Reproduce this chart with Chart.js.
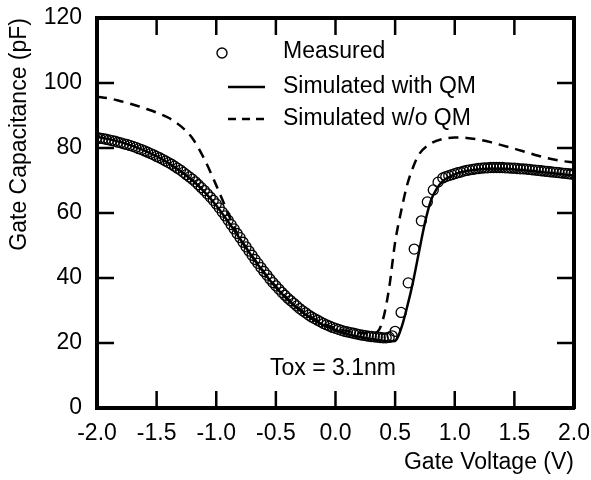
<!DOCTYPE html>
<!-- C-V curve: measured vs simulated with / without quantum-mechanical correction -->
<html>
<head>
<meta charset="utf-8">
<title>C-V comparison, Tox 3.1 nm</title>
<script src="https://cdn.jsdelivr.net/npm/chart.js@4.4.1/dist/chart.umd.min.js"></script>
<style>
  html, body { margin: 0; padding: 0; background: #ffffff; }
</style>
</head>
<body>
<canvas id="cvChart" width="591" height="480"></canvas>
<script>
// --- STYLE ---
const FONT = '"Liberation Sans", Arial, Helvetica, sans-serif';
const FONT_SIZE = 23;
const TICK_LEN = 17;
const TICK_W = 2.5;

// --- DATA ---
// Axis ticks
const xTicks = [-2.0, -1.5, -1.0, -0.5, 0.0, 0.5, 1.0, 1.5, 2.0];
const yTicks = [0, 20, 40, 60, 80, 100, 120];

const legendLabels = ['Measured', 'Simulated with QM', 'Simulated w/o QM'];
const noteText = 'Tox = 3.1nm';

// Measured C-V points (gate voltage in V, capacitance in pF)
const measuredV = [
  -2.000, -1.975, -1.950, -1.925, -1.900, -1.875, -1.850, -1.825, -1.800, -1.775,
  -1.750, -1.725, -1.700, -1.675, -1.650, -1.625, -1.600, -1.575, -1.550, -1.525,
  -1.500, -1.475, -1.450, -1.425, -1.400, -1.375, -1.350, -1.325, -1.300, -1.275,
  -1.250, -1.225, -1.200, -1.175, -1.150, -1.125, -1.100, -1.075, -1.050, -1.025,
  -1.000, -0.975, -0.950, -0.925, -0.900, -0.875, -0.850, -0.825, -0.800, -0.775,
  -0.750, -0.725, -0.700, -0.675, -0.650, -0.625, -0.600, -0.575, -0.550, -0.525,
  -0.500, -0.475, -0.450, -0.425, -0.400, -0.375, -0.350, -0.325, -0.300, -0.275,
  -0.250, -0.225, -0.200, -0.175, -0.150, -0.125, -0.100, -0.075, -0.050, -0.025,
  0.000, 0.025, 0.050, 0.075, 0.100, 0.125, 0.150, 0.175, 0.200, 0.225,
  0.250, 0.275, 0.300, 0.325, 0.350, 0.375, 0.400, 0.425, 0.450, 0.475,
  0.50, 0.55, 0.61, 0.66, 0.72, 0.77, 0.82, 0.86,
  0.900, 0.925, 0.950, 0.975, 1.000, 1.025, 1.050, 1.075, 1.100, 1.125,
  1.150, 1.175, 1.200, 1.225, 1.250, 1.275, 1.300, 1.325, 1.350, 1.375,
  1.400, 1.425, 1.450, 1.475, 1.500, 1.525, 1.550, 1.575, 1.600, 1.625,
  1.650, 1.675, 1.700, 1.725, 1.750, 1.775, 1.800, 1.825, 1.850, 1.875,
  1.900, 1.925, 1.950, 1.975, 2.000
];
const measuredC = [
  83.2, 83.0, 82.9, 82.7, 82.5, 82.3, 82.1, 81.8, 81.6, 81.3,
  81.1, 80.8, 80.5, 80.2, 79.8, 79.5, 79.1, 78.7, 78.3, 77.9,
  77.4, 77.0, 76.5, 76.0, 75.5, 75.0, 74.4, 73.8, 73.2, 72.5,
  71.8, 71.1, 70.4, 69.6, 68.7, 67.8, 66.9, 65.9, 64.9, 63.9,
  62.8, 61.6, 60.3, 59.1, 57.8, 56.4, 55.1, 53.7, 52.4, 51.0,
  49.6, 48.3, 47.0, 45.7, 44.5, 43.2, 42.0, 40.9, 39.7, 38.6,
  37.6, 36.6, 35.6, 34.7, 33.8, 33.0, 32.2, 31.4, 30.6, 29.9,
  29.3, 28.6, 28.0, 27.5, 27.0, 26.5, 26.0, 25.6, 25.2, 24.8,
  24.5, 24.2, 23.9, 23.6, 23.4, 23.2, 23.0, 22.8, 22.6, 22.4,
  22.3, 22.1, 22.0, 21.9, 21.8, 21.7, 21.6, 21.6, 21.8, 22.2,
  23.6, 29.4, 38.5, 48.9, 57.6, 63.4, 67.1, 69.5,
  70.8, 71.2, 71.5, 71.8, 72.1, 72.4, 72.6, 72.9, 73.1, 73.3,
  73.4, 73.6, 73.7, 73.8, 73.9, 73.9, 74.0, 74.0, 74.0, 74.0,
  74.0, 73.9, 73.9, 73.8, 73.8, 73.7, 73.6, 73.6, 73.5, 73.4,
  73.3, 73.2, 73.1, 73.0, 72.9, 72.8, 72.7, 72.6, 72.5, 72.4,
  72.3, 72.2, 72.1, 72.0, 71.9
];

// Simulated with QM (solid line)
const qmV = [-2.0, -1.8, -1.6, -1.4, -1.2, -1.1, -1.0, -0.9, -0.8, -0.7,
  -0.6, -0.5, -0.4, -0.3, -0.2, -0.1, 0.0, 0.1, 0.2, 0.3,
  0.4, 0.45, 0.5, 0.55, 0.6, 0.65, 0.7, 0.75, 0.8, 0.85,
  0.9, 0.95, 1.0, 1.1, 1.2, 1.3, 1.4, 1.5, 1.6, 1.7,
  1.8, 1.9, 2.0];
const qmC = [83.5, 81.8, 79.2, 75.4, 70.1, 66.5, 62.3, 57.3, 52.0, 46.6,
  41.6, 37.1, 33.3, 30.1, 27.5, 25.5, 24.0, 22.8, 21.9, 21.2,
  20.7, 20.5, 20.6, 24.4, 31.0, 38.8, 48.0, 57.0, 63.8, 67.5,
  69.8, 71.0, 71.9, 72.9, 73.4, 73.6, 73.6, 73.4, 73.1, 72.7,
  72.3, 71.9, 71.5];

// Simulated w/o QM (dashed line)
const noQmV = [-2.0, -1.9, -1.8, -1.7, -1.6, -1.5, -1.4, -1.3, -1.2, -1.1,
  -1.0, -0.95, -0.9, -0.85, -0.8, -0.7, -0.6, -0.5, -0.4, -0.3,
  -0.2, -0.1, 0.0, 0.1, 0.2, 0.3, 0.35, 0.4, 0.45, 0.5,
  0.55, 0.6, 0.65, 0.7, 0.8, 0.9, 1.0, 1.1, 1.2, 1.3,
  1.4, 1.5, 1.6, 1.7, 1.8, 1.9, 2.0];
const noQmC = [95.8, 95.3, 94.4, 93.4, 92.2, 90.9, 89.3, 86.8, 83.0, 76.6,
  68.5, 64.2, 59.8, 55.6, 52.1, 46.8, 41.8, 37.4, 33.6, 30.4,
  27.9, 26.0, 24.6, 23.7, 23.1, 23.0, 23.4, 27.5, 37.0, 51.0,
  60.5, 68.5, 74.0, 78.0, 81.4, 82.8, 83.2, 83.1, 82.6, 81.8,
  80.8, 79.8, 78.7, 77.6, 76.7, 76.0, 75.5];

const toPoints = (xs, ys) => xs.map((v, i) => ({ x: v, y: ys[i] }));

const boxBorder = { display: true, color: '#000', width: 4 };

// Inward tick marks (filled rects, placed through the scales) plus the
// hand-placed legend and the Tox note
const decorPlugin = {
  id: 'figureDecor',
  afterDraw(chart) {
    const ctx = chart.ctx;
    const sx = chart.scales.x, sy = chart.scales.y;
    const left = sx.left, right = sx.right, top = sy.top, bottom = sy.bottom;
    ctx.save();
    ctx.fillStyle = '#000';
    ctx.strokeStyle = '#000';

    xTicks.slice(1, -1).forEach(v => {
      const px = sx.getPixelForValue(v) - TICK_W / 2;
      ctx.fillRect(px, bottom - TICK_LEN, TICK_W, TICK_LEN);
      ctx.fillRect(px, top, TICK_W, TICK_LEN);
    });
    yTicks.slice(1, -1).forEach(v => {
      const py = sy.getPixelForValue(v) - TICK_W / 2;
      ctx.fillRect(left, py, TICK_LEN, TICK_W);
      ctx.fillRect(right - TICK_LEN, py, TICK_LEN, TICK_W);
    });

    // legend
    const symX = 222, lineX0 = 228, lineX1 = 265, textX = 283;
    const rows = [52, 87, 119];
    ctx.lineWidth = 1.4;
    ctx.setLineDash([]);
    ctx.beginPath();
    ctx.arc(symX, rows[0] + 1, 5, 0, Math.PI * 2);
    ctx.stroke();
    ctx.fillRect(lineX0, rows[1] - 1.25, lineX1 - lineX0, 2.5);
    [0, 14, 28].forEach(d => ctx.fillRect(lineX0 + d, rows[2] - 1.25, 8, 2.5));

    ctx.font = FONT_SIZE + 'px ' + FONT;
    ctx.textAlign = 'left';
    ctx.textBaseline = 'middle';
    legendLabels.forEach((t, i) => ctx.fillText(t, textX, rows[i]));
    ctx.fillText(noteText, 270, 369);
    ctx.restore();
  }
};

new Chart(document.getElementById('cvChart'), {
  type: 'scatter',
  data: {
    datasets: [
      {
        label: legendLabels[0],
        data: toPoints(measuredV, measuredC),
        showLine: false,
        pointStyle: 'circle',
        pointRadius: 5,
        pointBorderWidth: 1.3,
        pointBorderColor: '#000',
        pointBackgroundColor: 'rgba(0,0,0,0)'
      },
      {
        label: legendLabels[1],
        data: toPoints(qmV, qmC),
        showLine: true,
        pointRadius: 0,
        borderColor: '#000',
        borderWidth: 2.5,
        cubicInterpolationMode: 'monotone'
      },
      {
        label: legendLabels[2],
        data: toPoints(noQmV, noQmC),
        showLine: true,
        pointRadius: 0,
        borderColor: '#000',
        borderWidth: 2.5,
        borderDash: [10, 7],
        cubicInterpolationMode: 'monotone'
      }
    ]
  },
  options: {
    responsive: false,
    animation: false,
    events: [],
    layout: { padding: { left: 0, right: 17, top: 18, bottom: 0 } },
    plugins: { legend: { display: false }, tooltip: { enabled: false } },
    scales: {
      x: {
        type: 'linear',
        position: 'bottom',
        min: -2, max: 2,
        afterBuildTicks: s => { s.ticks = xTicks.map(v => ({ value: v })); },
        afterFit: s => { s.height = 72; s.paddingLeft = 0; s.paddingRight = 0; },
        grid: { display: false },
        border: boxBorder,
        ticks: {
          callback: v => Number(v).toFixed(1),
          color: '#000',
          font: { family: FONT, size: FONT_SIZE },
          padding: 4,
          maxRotation: 0,
          autoSkip: false
        },
        title: {
          display: true,
          text: 'Gate Voltage (V)',
          align: 'end',
          color: '#000',
          font: { family: FONT, size: FONT_SIZE },
          padding: { top: 0, bottom: 4 }
        }
      },
      xTop: {
        type: 'linear',
        position: 'top',
        axis: 'x',
        min: -2, max: 2,
        afterFit: s => { s.height = 0; s.paddingLeft = 0; s.paddingRight = 0; },
        grid: { display: false },
        border: boxBorder,
        ticks: { display: false }
      },
      y: {
        type: 'linear',
        position: 'left',
        min: 0, max: 120,
        afterBuildTicks: s => { s.ticks = yTicks.map(v => ({ value: v })); },
        afterFit: s => { s.width = 97; s.paddingTop = 0; s.paddingBottom = 0; },
        grid: { display: false },
        border: boxBorder,
        ticks: {
          callback: v => String(v),
          color: '#000',
          font: { family: FONT, size: FONT_SIZE },
          padding: 7
        },
        title: {
          display: true,
          text: 'Gate Capacitance (pF)',
          align: 'end',
          color: '#000',
          font: { family: FONT, size: FONT_SIZE },
          padding: { top: 6, bottom: 0 }
        }
      },
      yRight: {
        type: 'linear',
        position: 'right',
        axis: 'y',
        min: 0, max: 120,
        afterFit: s => { s.width = 0; s.paddingTop = 0; s.paddingBottom = 0; },
        grid: { display: false },
        border: boxBorder,
        ticks: { display: false }
      }
    }
  },
  plugins: [decorPlugin]
});
</script>
</body>
</html>
